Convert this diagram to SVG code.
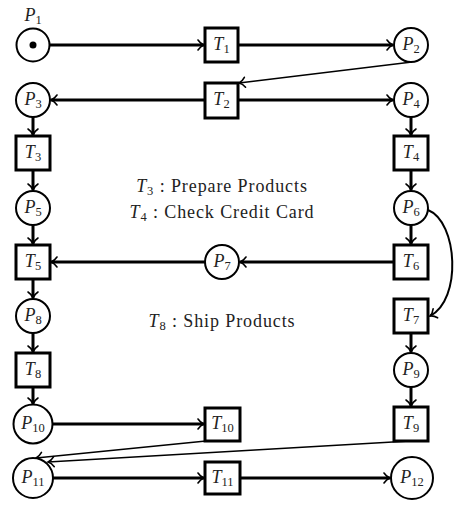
<svg xmlns="http://www.w3.org/2000/svg" width="463" height="505" viewBox="0 0 463 505">
<style>
text{font-family:"Liberation Serif","DejaVu Serif",serif;font-size:18px;fill:#222}
.i{font-style:italic}
.s{font-size:12.5px;font-style:normal}
.pl{fill:#fff;stroke:#000;stroke-width:2}
.tr{fill:#fff;stroke:#000;stroke-width:3}
.th{stroke:#000;stroke-width:3;fill:none;marker-end:url(#ah)}
.tn{stroke:#000;stroke-width:1.4;fill:none;marker-end:url(#ah)}
.lg{font-size:18px;letter-spacing:0.9px}
</style>
<defs>
<marker id="ah" markerUnits="userSpaceOnUse" markerWidth="14" markerHeight="14" viewBox="-8 -7 10 14" refX="0" refY="0" orient="auto" overflow="visible">
<path d="M-6,-5 C-4,-2 -1.5,-0.5 0,0 C-1.5,0.5 -4,2 -6,5" fill="none" stroke="#000" stroke-width="1.6" stroke-linecap="round"/>
</marker>
</defs>
<g id="connectors">
<line class="th" x1="49.5" y1="45" x2="204" y2="45"/>
<line class="th" x1="238" y1="45" x2="393" y2="45"/>
<line class="tn" x1="412" y1="62" x2="239" y2="83"/>
<line class="th" x1="205" y1="100" x2="51" y2="100"/>
<line class="th" x1="238" y1="100" x2="393" y2="100"/>
<line class="th" x1="33" y1="117" x2="33" y2="135"/>
<line class="th" x1="33" y1="170" x2="33" y2="190"/>
<line class="th" x1="33" y1="225" x2="33" y2="244"/>
<line class="th" x1="33" y1="279" x2="33" y2="298"/>
<line class="th" x1="33" y1="333" x2="33" y2="352"/>
<line class="th" x1="33" y1="387" x2="33" y2="404"/>
<line class="th" x1="411" y1="117" x2="411" y2="135"/>
<line class="th" x1="411" y1="170" x2="411" y2="190"/>
<line class="th" x1="411" y1="225" x2="411" y2="244"/>
<line class="th" x1="411" y1="333" x2="411" y2="352"/>
<line class="th" x1="411" y1="387" x2="411" y2="406"/>
<line class="th" x1="394" y1="262" x2="240" y2="262"/>
<line class="th" x1="205" y1="262" x2="51" y2="262"/>
<path class="tn" style="stroke-width:2" d="M428,210 C458,222 462,300 430,316"/>
<line class="th" x1="52" y1="424" x2="204" y2="424"/>
<line class="th" x1="53" y1="478" x2="204" y2="478"/>
<line class="th" x1="240" y1="478" x2="390" y2="478"/>
<line class="tn" x1="206" y1="441" x2="36" y2="458"/>
<line class="tn" x1="410" y1="441" x2="48" y2="462"/>
</g>
<g id="P1"><circle class="pl" cx="33" cy="45" r="16.5"/><circle cx="33" cy="45" r="3.5" fill="#000"/><text x="33" y="21" text-anchor="middle"><tspan class="i">P</tspan><tspan class="s" dy="3">1</tspan></text></g>
<g id="T1"><rect class="tr" x="205" y="28" width="33" height="34"/><text x="221.5" y="50" text-anchor="middle"><tspan class="i">T</tspan><tspan class="s" dy="3">1</tspan></text></g>
<g id="P2"><circle class="pl" cx="411" cy="45" r="17"/><text x="411" y="50" text-anchor="middle"><tspan class="i">P</tspan><tspan class="s" dy="3">2</tspan></text></g>
<g id="P3"><circle class="pl" cx="33" cy="100" r="17"/><text x="33" y="105" text-anchor="middle"><tspan class="i">P</tspan><tspan class="s" dy="3">3</tspan></text></g>
<g id="T2"><rect class="tr" x="205" y="83" width="33" height="35"/><text x="221.5" y="105" text-anchor="middle"><tspan class="i">T</tspan><tspan class="s" dy="3">2</tspan></text></g>
<g id="P4"><circle class="pl" cx="411" cy="100" r="17"/><text x="411" y="105" text-anchor="middle"><tspan class="i">P</tspan><tspan class="s" dy="3">4</tspan></text></g>
<g id="T3"><rect class="tr" x="16" y="136" width="34" height="34"/><text x="33" y="158" text-anchor="middle"><tspan class="i">T</tspan><tspan class="s" dy="3">3</tspan></text></g>
<g id="T4"><rect class="tr" x="394" y="136" width="34" height="34"/><text x="411" y="158" text-anchor="middle"><tspan class="i">T</tspan><tspan class="s" dy="3">4</tspan></text></g>
<g id="P5"><circle class="pl" cx="33" cy="208" r="17"/><text x="33" y="213" text-anchor="middle"><tspan class="i">P</tspan><tspan class="s" dy="3">5</tspan></text></g>
<g id="P6"><circle class="pl" cx="411" cy="208" r="17"/><text x="411" y="213" text-anchor="middle"><tspan class="i">P</tspan><tspan class="s" dy="3">6</tspan></text></g>
<g id="T5"><rect class="tr" x="16" y="245" width="34" height="34"/><text x="33" y="267" text-anchor="middle"><tspan class="i">T</tspan><tspan class="s" dy="3">5</tspan></text></g>
<g id="P7"><circle class="pl" cx="222" cy="262" r="17"/><text x="222" y="267" text-anchor="middle"><tspan class="i">P</tspan><tspan class="s" dy="3">7</tspan></text></g>
<g id="T6"><rect class="tr" x="394" y="245" width="34" height="34"/><text x="411" y="267" text-anchor="middle"><tspan class="i">T</tspan><tspan class="s" dy="3">6</tspan></text></g>
<g id="P8"><circle class="pl" cx="33" cy="316" r="17"/><text x="33" y="321" text-anchor="middle"><tspan class="i">P</tspan><tspan class="s" dy="3">8</tspan></text></g>
<g id="T7"><rect class="tr" x="394" y="299" width="34" height="34"/><text x="411" y="321" text-anchor="middle"><tspan class="i">T</tspan><tspan class="s" dy="3">7</tspan></text></g>
<g id="T8"><rect class="tr" x="16" y="353" width="34" height="34"/><text x="33" y="375" text-anchor="middle"><tspan class="i">T</tspan><tspan class="s" dy="3">8</tspan></text></g>
<g id="P9"><circle class="pl" cx="411" cy="370" r="17"/><text x="411" y="375" text-anchor="middle"><tspan class="i">P</tspan><tspan class="s" dy="3">9</tspan></text></g>
<g id="P10"><circle class="pl" cx="33" cy="424" r="19.5"/><text x="33" y="429" text-anchor="middle"><tspan class="i">P</tspan><tspan class="s" dy="3">10</tspan></text></g>
<g id="T10"><rect class="tr" x="205" y="408" width="35" height="33"/><text x="222.5" y="429" text-anchor="middle"><tspan class="i">T</tspan><tspan class="s" dy="3">10</tspan></text></g>
<g id="T9"><rect class="tr" x="394" y="407" width="34" height="34"/><text x="411" y="429" text-anchor="middle"><tspan class="i">T</tspan><tspan class="s" dy="3">9</tspan></text></g>
<g id="P11"><circle class="pl" cx="33" cy="478" r="20"/><text x="33" y="483" text-anchor="middle"><tspan class="i">P</tspan><tspan class="s" dy="3">11</tspan></text></g>
<g id="T11"><rect class="tr" x="205" y="462" width="35" height="32"/><text x="222.5" y="483" text-anchor="middle"><tspan class="i">T</tspan><tspan class="s" dy="3">11</tspan></text></g>
<g id="P12"><circle class="pl" cx="412" cy="478" r="21"/><text x="412" y="483" text-anchor="middle"><tspan class="i">P</tspan><tspan class="s" dy="3">12</tspan></text></g>
<g id="legend">
<text class="lg" x="222" y="192" text-anchor="middle"><tspan class="i">T</tspan><tspan class="s" dy="3">3</tspan><tspan dy="-3"> : Prepare Products</tspan></text>
<text class="lg" x="222" y="218" text-anchor="middle"><tspan class="i">T</tspan><tspan class="s" dy="3">4</tspan><tspan dy="-3"> : Check Credit Card</tspan></text>
<text class="lg" x="222" y="327" text-anchor="middle"><tspan class="i">T</tspan><tspan class="s" dy="3">8</tspan><tspan dy="-3"> : Ship Products</tspan></text>
</g>
</svg>
